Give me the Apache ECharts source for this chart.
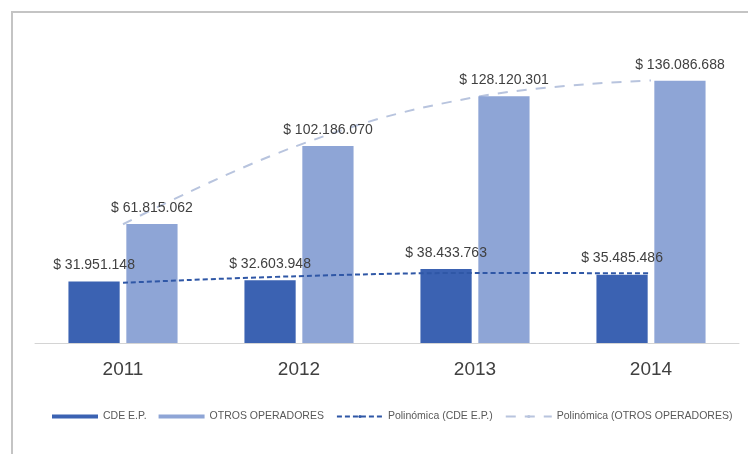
<!DOCTYPE html>
<html>
<head>
<meta charset="utf-8">
<script src="https://cdn.jsdelivr.net/npm/echarts@6/dist/echarts.min.js"></script>
<style>
  html, body { margin: 0; padding: 0; background: #ffffff; }
  #chart { width: 748px; height: 454px; }
</style>
</head>
<body>
<div id="chart"></div>
<script>
// Yearly amounts (pesos) per operator
const years = ['2011', '2012', '2013', '2014'];
const cdeValues = [31951148, 32603948, 38433763, 35485486];
const otrosValues = [61815062, 102186070, 128120301, 136086688];
const seriesNames = ['CDE E.P.', 'OTROS OPERADORES', 'Polinómica (CDE E.P.)', 'Polinómica (OTROS OPERADORES)'];

// Least-squares quadratic trendline evaluated at each category (x = 1..n)
function quadTrend(values) {
  const n = values.length;
  let s0 = n, s1 = 0, s2 = 0, s3 = 0, s4 = 0, t0 = 0, t1 = 0, t2 = 0;
  values.forEach((y, i) => {
    const x = i + 1;
    s1 += x; s2 += x * x; s3 += x * x * x; s4 += x * x * x * x;
    t0 += y; t1 += x * y; t2 += x * x * y;
  });
  // Solve 3x3 normal equations with Cramer's rule
  const det = (m) => m[0][0] * (m[1][1] * m[2][2] - m[1][2] * m[2][1])
    - m[0][1] * (m[1][0] * m[2][2] - m[1][2] * m[2][0])
    + m[0][2] * (m[1][0] * m[2][1] - m[1][1] * m[2][0]);
  const A = [[s0, s1, s2], [s1, s2, s3], [s2, s3, s4]];
  const B = [t0, t1, t2];
  const D = det(A);
  const coef = [0, 1, 2].map(k => {
    const M = A.map((row, r) => row.map((v, c) => (c === k ? B[r] : v)));
    return det(M) / D;
  });
  return values.map((_, i) => {
    const x = i + 1;
    return coef[0] + coef[1] * x + coef[2] * x * x;
  });
}

function money(v) {
  return '$ ' + String(Math.round(v)).replace(/\B(?=(\d{3})+(?!\d))/g, '.');
}

const darkBlue = '#3B62B2';
const lightBlue = '#8EA5D6';
const labelStyle = {
  show: true,
  position: 'top',
  distance: 9,
  color: '#404040',
  fontFamily: 'Liberation Sans, Arial, sans-serif',
  fontSize: 14,
  formatter: (p) => money(p.value)
};

const chart = echarts.init(document.getElementById('chart'), null, { renderer: 'canvas' });
chart.setOption({
  backgroundColor: '#ffffff',
  animation: false,
  graphic: [{
    type: 'rect',
    shape: { x: 12, y: 12, width: 760, height: 460 },
    style: { fill: 'none', stroke: '#c4c4c4', lineWidth: 2 },
    silent: true,
    z: -10
  }],
  grid: { left: 35, right: 9, top: 54, bottom: 111 },
  legend: {
    left: 47,
    top: 406,
    itemWidth: 46,
    itemHeight: 4,
    itemGap: 12,
    textStyle: { color: '#595959', fontSize: 10.5, fontFamily: 'Liberation Sans Narrow, Arial Narrow, sans-serif' },
    data: [
      { name: seriesNames[0], icon: 'rect' },
      { name: seriesNames[1], icon: 'rect' },
      { name: seriesNames[2] },
      { name: seriesNames[3] }
    ]
  },
  xAxis: {
    type: 'category',
    data: years,
    axisLine: { lineStyle: { color: '#d4d4d4', width: 1 } },
    axisTick: { show: false },
    axisLabel: { color: '#404040', fontSize: 19, fontFamily: 'Liberation Sans, Arial, sans-serif', margin: 17 }
  },
  yAxis: {
    type: 'value',
    min: 0,
    max: 150000000,
    show: false,
    splitLine: { show: false }
  },
  series: [
    {
      name: seriesNames[0],
      type: 'bar',
      data: cdeValues,
      barGap: '13%',
      barCategoryGap: '38%',
      itemStyle: { color: darkBlue },
      label: labelStyle,
      z: 2
    },
    {
      name: seriesNames[1],
      type: 'bar',
      data: otrosValues,
      itemStyle: { color: lightBlue },
      label: labelStyle,
      z: 2
    },
    {
      name: seriesNames[2],
      type: 'line',
      data: quadTrend(cdeValues),
      smooth: 0.4,
      symbol: 'none',
      lineStyle: { color: '#2F57A6', width: 2, type: [5, 3] },
      itemStyle: { color: '#2F57A6' },
      z: 5
    },
    {
      name: seriesNames[3],
      type: 'line',
      data: quadTrend(otrosValues),
      smooth: 0.4,
      symbol: 'none',
      lineStyle: { color: '#B8C4DE', width: 2, type: [10, 9] },
      itemStyle: { color: '#B8C4DE' },
      z: 1
    }
  ]
});
</script>
</body>
</html>
